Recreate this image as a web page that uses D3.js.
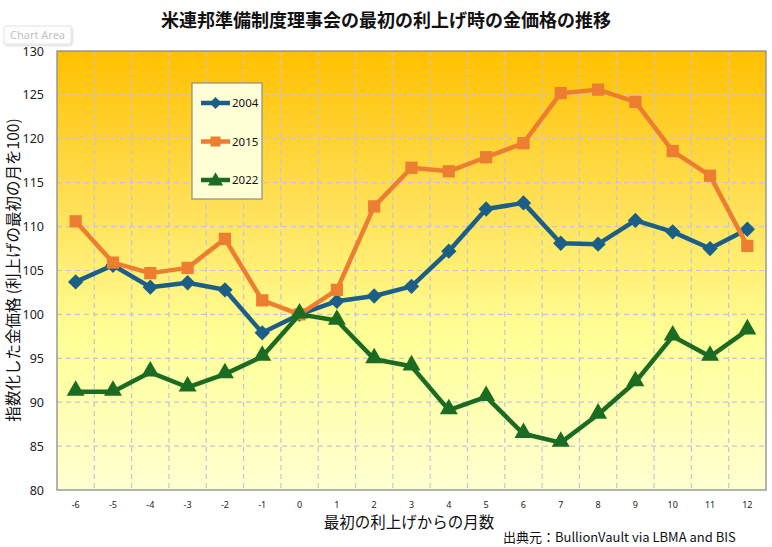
<!DOCTYPE html>
<html>
<head>
<meta charset="utf-8">
<script src="https://cdn.jsdelivr.net/npm/d3@7"></script>
<style>
  body { margin: 0; background: #fff; }
  text { font-family: "Noto Sans", "Noto Sans CJK JP", sans-serif; }
  .jp { font-family: "Noto Sans CJK JP", sans-serif; }
</style>
</head>
<body>
<div id="chart"></div>
<script>
// months since first rate hike
var months = [-6, -5, -4, -3, -2, -1, 0, 1, 2, 3, 4, 5, 6, 7, 8, 9, 10, 11, 12];

var y2004 = [103.7, 105.6, 103.1, 103.6, 102.8, 97.9, 100, 101.5, 102.1, 103.2, 107.2, 112.0, 112.7, 108.1, 108.0, 110.7, 109.4, 107.5, 109.7];
var y2015 = [110.6, 105.9, 104.7, 105.3, 108.6, 101.6, 100, 102.8, 112.3, 116.7, 116.3, 117.9, 119.5, 125.2, 125.6, 124.2, 118.6, 115.8, 107.8];
var y2022 = [91.2, 91.2, 93.4, 91.7, 93.2, 95.2, 100, 99.3, 94.9, 94.1, 89.1, 90.6, 86.4, 85.4, 88.6, 92.3, 97.5, 95.2, 98.2];

var yTicks = [80, 85, 90, 95, 100, 105, 110, 115, 120, 125, 130];

var seriesNames = ["2004", "2015", "2022"];
var seriesColors = ["#1b5f89", "#ed7d31", "#1c6b23"];
var seriesSymbols = [d3.symbolDiamond2, d3.symbolSquare, d3.symbolTriangle];
var seriesData = [y2004, y2015, y2022];

var svgWidth = 772;
var svgHeight = 547;

var margin = { top: 51, right: 6, bottom: 57, left: 57 };
var width = svgWidth - margin.left - margin.right;
var height = svgHeight - margin.top - margin.bottom;

var svg = d3.select("#chart")
  .append("svg")
  .attr("width", svgWidth)
  .attr("height", svgHeight);

// background gradient of the plot area
var defs = svg.append("defs");
var grad = defs.append("linearGradient")
  .attr("id", "bg")
  .attr("x1", 0).attr("y1", 0).attr("x2", 0).attr("y2", 1);
grad.append("stop").attr("offset", "0%").attr("stop-color", "#ffc000");
grad.append("stop").attr("offset", "35%").attr("stop-color", "#ffe057");
grad.append("stop").attr("offset", "65%").attr("stop-color", "#ffff96");
grad.append("stop").attr("offset", "100%").attr("stop-color", "#ffffd2");

var shadow = defs.append("filter").attr("id", "shadow")
  .attr("x", "-20%").attr("y", "-30%").attr("width", "140%").attr("height", "170%");
shadow.append("feDropShadow")
  .attr("dx", 1).attr("dy", 1).attr("stdDeviation", 1.2)
  .attr("flood-color", "#000").attr("flood-opacity", 0.18);

var chartGroup = svg.append("g")
  .attr("transform", `translate(${margin.left}, ${margin.top})`);

var xScale = d3.scaleBand()
  .domain(months)
  .range([0, width]);

var yScale = d3.scaleLinear()
  .domain([80, 130])
  .range([height, 0]);

chartGroup.append("rect")
  .attr("width", width)
  .attr("height", height)
  .attr("fill", "url(#bg)");

// horizontal gridlines
chartGroup.append("g")
  .selectAll("line")
  .data(yTicks.slice(1, -1))
  .enter()
  .append("line")
  .attr("x1", 0).attr("x2", width)
  .attr("y1", d => yScale(d)).attr("y2", d => yScale(d))
  .attr("stroke", "#c4c4dc")
  .attr("stroke-width", 1.2)
  .attr("stroke-dasharray", "5,4");

// vertical gridlines at category borders
chartGroup.append("g")
  .selectAll("line")
  .data(months.slice(1))
  .enter()
  .append("line")
  .attr("x1", d => xScale(d)).attr("x2", d => xScale(d))
  .attr("y1", 0).attr("y2", height)
  .attr("stroke", "#c4c4dc")
  .attr("stroke-width", 1.2)
  .attr("stroke-dasharray", "5,4");

chartGroup.append("rect")
  .attr("width", width)
  .attr("height", height)
  .attr("fill", "none")
  .attr("stroke", "#8c8c8c")
  .attr("stroke-width", 1.3);

// axes
var leftAxis = d3.axisLeft(yScale).tickValues(yTicks).tickSize(0).tickPadding(13);
var bottomAxis = d3.axisBottom(xScale).tickSize(0).tickPadding(12);

var yAxisG = chartGroup.append("g").call(leftAxis);
yAxisG.select(".domain").remove();
yAxisG.selectAll("text")
  .style("font-size", "12.5px")
  .attr("fill", "#222");

var xAxisG = chartGroup.append("g")
  .attr("transform", `translate(0, ${height})`)
  .call(bottomAxis);
xAxisG.select(".domain").remove();
xAxisG.selectAll("text")
  .style("font-size", "9px")
  .attr("fill", "#222");

// series
var line = d3.line()
  .x((d, i) => xScale(months[i]) + xScale.bandwidth() / 2)
  .y(d => yScale(d));

seriesData.forEach(function(vals, k) {
  var g = chartGroup.append("g");
  g.append("path")
    .datum(vals)
    .attr("d", line)
    .attr("fill", "none")
    .attr("stroke", seriesColors[k])
    .attr("stroke-width", 4.5)
    .attr("stroke-linejoin", "round");

  var size = k === 2 ? 140 : 150;
  g.selectAll("path.marker")
    .data(vals)
    .enter()
    .append("path")
    .attr("class", "marker")
    .attr("d", d3.symbol().type(seriesSymbols[k]).size(size))
    .attr("transform", (d, i) => `translate(${xScale(months[i]) + xScale.bandwidth() / 2}, ${yScale(d) + (k === 2 ? -1 : 0)})`)
    .attr("fill", seriesColors[k]);
});

// legend
var legend = svg.append("g")
  .attr("transform", "translate(192, 83)");

legend.append("rect")
  .attr("width", 70)
  .attr("height", 116)
  .attr("fill", "#ffffd6")
  .attr("stroke", "#8c8c8c")
  .attr("stroke-width", 1.2);

seriesNames.forEach(function(name, k) {
  var ly = 20 + k * 38.5;
  legend.append("line")
    .attr("x1", 9).attr("x2", 38)
    .attr("y1", ly).attr("y2", ly)
    .attr("stroke", seriesColors[k])
    .attr("stroke-width", 4.5);
  legend.append("path")
    .attr("d", d3.symbol().type(seriesSymbols[k]).size(k === 0 ? 90 : 100))
    .attr("transform", `translate(23.5, ${ly + (k === 2 ? 1 : 0)})`)
    .attr("fill", seriesColors[k]);
  legend.append("text")
    .attr("x", 40)
    .attr("y", ly + 4)
    .style("font-size", "11.5px")
    .attr("fill", "#111")
    .text(name);
});

// titles
svg.append("text")
  .attr("class", "jp")
  .attr("x", 386)
  .attr("y", 27)
  .attr("text-anchor", "middle")
  .style("font-size", "18px")
  .style("font-weight", "bold")
  .attr("fill", "#111")
  .text("米連邦準備制度理事会の最初の利上げ時の金価格の推移");

svg.append("text")
  .attr("class", "jp")
  .attr("x", 409)
  .attr("y", 528)
  .attr("text-anchor", "middle")
  .style("font-size", "15.5px")
  .attr("fill", "#111")
  .text("最初の利上げからの月数");

svg.append("text")
  .attr("class", "jp")
  .attr("transform", "translate(19, 270) rotate(-90)")
  .attr("text-anchor", "middle")
  .style("font-size", "15.5px")
  .attr("fill", "#111")
  .text("指数化した金価格 (利上げの最初の月を100)");

svg.append("text")
  .attr("class", "jp")
  .attr("x", 503)
  .attr("y", 542)
  .style("font-size", "13px")
  .attr("fill", "#111")
  .text("出典元：BullionVault via LBMA and BIS");

// "Chart Area" tooltip left in the screenshot
var tip = svg.append("g").attr("transform", "translate(4, 26)");
tip.append("rect")
  .attr("width", 67)
  .attr("height", 18)
  .attr("rx", 2)
  .attr("fill", "#fdfdfd")
  .attr("stroke", "#e6e6e6")
  .attr("filter", "url(#shadow)");
tip.append("text")
  .attr("x", 6)
  .attr("y", 13)
  .style("font-size", "11px")
  .attr("fill", "#c4c4c4")
  .text("Chart Area");
</script>
</body>
</html>
